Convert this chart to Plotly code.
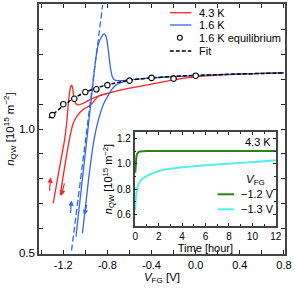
import plotly.graph_objects as go

# ---------------- data ----------------
red_up_v = [-1.291, -1.24, -1.188, -1.17, -1.159, -1.144, -1.133, -1.123, -1.113, -1.106, -1.095,
            -1.085, -1.062, -1.04, -1.0, -0.95, -0.88, -0.79, -0.6, -0.41, -0.2, 0.0, 0.2, 0.4, 0.6, 0.8]
red_up_n = [0.70, 0.83, 0.956, 1.02, 1.077, 1.144, 1.17, 1.177, 1.16, 1.13, 1.11,
            1.102, 1.097, 1.10, 1.108, 1.12, 1.133, 1.145, 1.165, 1.18, 1.198, 1.21, 1.217, 1.221, 1.224, 1.226]
red_dn_v = [-0.79, -0.88, -0.952, -1.026, -1.079, -1.115, -1.145, -1.19, -1.227]
red_dn_n = [1.145, 1.133, 1.097, 1.077, 1.05, 1.016, 0.956, 0.84, 0.734]

blue_up_v = [-1.085, -1.0, -0.95, -0.907, -0.88, -0.855, -0.84, -0.826, -0.81, -0.795, -0.782,
             -0.77, -0.755, -0.74, -0.72, -0.68, -0.6, -0.4, -0.2, 0.0, 0.2, 0.4, 0.6, 0.8]
blue_up_n = [0.566, 0.905, 1.105, 1.278, 1.345, 1.37, 1.38, 1.383, 1.37, 1.33, 1.28,
             1.24, 1.21, 1.2, 1.196, 1.195, 1.198, 1.206, 1.211, 1.215, 1.219, 1.222, 1.224, 1.226]
blue_dn_v = [-0.6, -0.66, -0.72, -0.76, -0.8, -0.84, -0.88, -0.922, -0.97, -1.026]
blue_dn_n = [1.197, 1.19, 1.178, 1.16, 1.13, 1.095, 1.04, 0.955, 0.80, 0.58]

blue_lin_v = [-1.125, -0.843]
blue_lin_n = [0.51, 1.5]

eq_v = [-1.3, -1.2, -1.1, -1.0, -0.9, -0.8, -0.6, -0.4, -0.2, 0.0]
eq_n = [1.056, 1.100, 1.122, 1.149, 1.160, 1.177, 1.195, 1.206, 1.203, 1.215]

fit_v = [-1.33, -1.3, -1.2, -1.1, -1.0, -0.9, -0.8, -0.7, -0.6, -0.5, -0.4, -0.2, 0.0, 0.2, 0.4, 0.6, 0.8]
fit_n = [1.045, 1.056, 1.094, 1.125, 1.148, 1.165, 1.178, 1.188, 1.196, 1.202, 1.206, 1.212, 1.216,
         1.219, 1.222, 1.224, 1.226]

# inset: time traces at 4.3 K
t_g = [0.0, 0.03, 0.06, 0.1, 0.15, 0.2, 0.3, 0.4, 0.55, 0.7, 1.0, 2, 4, 6, 8, 10, 12]
n_g = [0.93, 0.99, 1.03, 1.06, 1.075, 1.085, 1.093, 1.097, 1.099, 1.10, 1.10, 1.10, 1.10, 1.10, 1.10, 1.10, 1.10]
t_c = [0.0, 0.03, 0.1, 0.2, 0.37, 0.6, 1.0, 1.5, 2.1, 3, 4, 5, 6, 7, 8, 9, 10, 11, 12]
n_c = [0.635, 0.70, 0.77, 0.82, 0.857, 0.88, 0.905, 0.925, 0.945, 0.96, 0.972, 0.98, 0.988,
       0.995, 1.0, 1.007, 1.013, 1.02, 1.027]

x_tickvals = [-1.2, -0.8, -0.4, 0.0, 0.4, 0.8]
x_ticktext = ["-1.2", "-0.8", "-0.4", "0.0", "0.4", "0.8"]
y_tickvals = [0.5, 1.0, 1.5]
y_ticktext = ["0.5", "1.0", "1.5"]

main_legend_names = ["4.3 K", "1.6 K", "1.6 K equilibrium", "Fit"]
inset_legend_names = ["\u22121.2 V", "\u22121.3 V"]

RED = "#ff2222"
BLUE = "#3366ee"
GREEN = "#2f7f1f"
CYAN = "#55eeee"
FONT = "Arial, Liberation Sans, sans-serif"

W, H = 295, 290
ML, MR, MT, MB = 39, 4, 4, 36
PW, PH = W - ML - MR, H - MT - MB


def px(x):
    return (x - ML) / PW


def py(y):
    return (H - MB - y) / PH


fig = go.Figure()
fig.add_trace(go.Scatter(x=red_up_v, y=red_up_n, mode="lines", name=main_legend_names[0],
                         line=dict(color=RED, width=1.3, shape="spline", smoothing=0.5)))
fig.add_trace(go.Scatter(x=red_dn_v, y=red_dn_n, mode="lines", name=main_legend_names[0],
                         line=dict(color=RED, width=1.3, shape="spline", smoothing=0.5)))
fig.add_trace(go.Scatter(x=blue_up_v, y=blue_up_n, mode="lines", name=main_legend_names[1],
                         line=dict(color=BLUE, width=1.3, shape="spline", smoothing=0.5)))
fig.add_trace(go.Scatter(x=blue_dn_v, y=blue_dn_n, mode="lines", name=main_legend_names[1],
                         line=dict(color=BLUE, width=1.3, shape="spline", smoothing=0.5)))
fig.add_trace(go.Scatter(x=blue_lin_v, y=blue_lin_n, mode="lines", name="1.6 K linear",
                         line=dict(color=BLUE, width=1.3, dash="6px,3px")))
fig.add_trace(go.Scatter(x=fit_v, y=fit_n, mode="lines", name=main_legend_names[3],
                         line=dict(color="black", width=1.5, dash="4px,2px", shape="spline")))
fig.add_trace(go.Scatter(x=eq_v, y=eq_n, mode="markers", name=main_legend_names[2],
                         marker=dict(symbol="circle", size=5.5, color="white",
                                     line=dict(width=1.1, color="black"))))

# inset
fig.add_trace(go.Scatter(x=t_g, y=n_g, mode="lines", name=inset_legend_names[0], xaxis="x2", yaxis="y2",
                         line=dict(color=GREEN, width=2)))
fig.add_trace(go.Scatter(x=t_c, y=n_c, mode="lines", name=inset_legend_names[1], xaxis="x2", yaxis="y2",
                         line=dict(color=CYAN, width=2, shape="spline", smoothing=0.6)))

axis_common = dict(showline=True, linecolor="#444", linewidth=1.5, mirror="ticks",
                   ticks="inside", ticklen=4, tickcolor="#222", tickwidth=1, showgrid=False,
                   zeroline=False)

arrows = [
    (-1.315, 0.805, -1.325, 0.745, RED),
    (-1.218, 0.731, -1.186, 0.787, RED),
    (-1.125, 0.712, -1.135, 0.655, BLUE),
    (-1.011, 0.652, -0.983, 0.700, BLUE),
]
annotations = []
for (x, y, ax, ay, c) in arrows:
    annotations.append(dict(x=x, y=y, ax=ax, ay=ay, xref="x", yref="y", axref="x", ayref="y",
                            showarrow=True, arrowhead=2, arrowsize=0.9, arrowwidth=1.2,
                            arrowcolor=c, text=""))

shapes = []
# ---- main legend (drawn manually to match the compact spacing) ----
leg_y = [12.7, 25.0, 37.7, 51.0]
leg_x0, leg_x1, leg_tx = 173, 195, 200.5
shapes.append(dict(type="line", xref="paper", yref="paper", x0=px(leg_x0), x1=px(leg_x1),
                   y0=py(leg_y[0]), y1=py(leg_y[0]), line=dict(color=RED, width=1.3)))
shapes.append(dict(type="line", xref="paper", yref="paper", x0=px(leg_x0), x1=px(leg_x1),
                   y0=py(leg_y[1]), y1=py(leg_y[1]), line=dict(color=BLUE, width=1.3)))
shapes.append(dict(type="circle", xref="paper", yref="paper", x0=px(183.3 - 2.5), x1=px(183.3 + 2.5),
                   y0=py(leg_y[2] + 2.5), y1=py(leg_y[2] - 2.5), line=dict(color="black", width=1.1),
                   fillcolor="white"))
shapes.append(dict(type="line", xref="paper", yref="paper", x0=px(leg_x0), x1=px(leg_x1),
                   y0=py(leg_y[3]), y1=py(leg_y[3]), line=dict(color="black", width=1.5, dash="4px,2px")))
for name, yy in zip(main_legend_names, leg_y):
    annotations.append(dict(text=name, x=px(leg_tx), y=py(yy), xref="paper", yref="paper",
                            xanchor="left", yanchor="middle", showarrow=False, font=dict(size=11)))

# ---- inset legend ----
ileg_y = [194.3, 209.3]
for col, name, yy in zip([GREEN, CYAN], inset_legend_names, ileg_y):
    shapes.append(dict(type="line", xref="paper", yref="paper", x0=px(222), x1=px(239),
                       y0=py(yy), y1=py(yy), line=dict(color=col, width=2)))
    annotations.append(dict(text=name, x=px(244), y=py(yy), xref="paper", yref="paper",
                            xanchor="left", yanchor="middle", showarrow=False, font=dict(size=11)))
annotations.append(dict(text="<i>V</i><sub>FG</sub>", x=px(261), y=py(180), xref="paper", yref="paper",
                        showarrow=False, xanchor="center", yanchor="middle", font=dict(size=11.5)))
annotations.append(dict(text="4.3 K", x=px(279), y=py(142), xref="paper", yref="paper",
                        showarrow=False, xanchor="right", yanchor="middle", font=dict(size=11)))

fig.update_layout(
    width=W, height=H, autosize=False,
    margin=dict(l=ML, r=MR, t=MT, b=MB),
    paper_bgcolor="white", plot_bgcolor="white",
    font=dict(family=FONT, size=11, color="black"),
    showlegend=False,
    xaxis=dict(axis_common, range=[-1.42, 0.81], tickvals=x_tickvals, ticktext=x_ticktext,
               minor=dict(dtick=0.2, tick0=0, ticks="inside", ticklen=4, tickcolor="#222"),
               title=dict(text="<i>V</i><sub>FG</sub> [V]", standoff=3, font=dict(size=11.5)),
               tickfont=dict(size=11), anchor="y", automargin=False),
    yaxis=dict(axis_common, range=[0.496, 1.504], tickvals=y_tickvals, ticktext=y_ticktext,
               minor=dict(dtick=0.1, tick0=0, ticks="inside", ticklen=4, tickcolor="#222"),
               title=dict(text="<i>n</i><sub>QW</sub> [10<sup>15</sup> m<sup>\u22122</sup>]",
                          standoff=2, font=dict(size=11.5)),
               tickfont=dict(size=11.5), anchor="x", automargin=False),
    xaxis2=dict(axis_common, domain=[px(137), px(282)], range=[-0.05, 12.03], anchor="y2",
                dtick=2, tick0=0, ticklen=3,
                minor=dict(dtick=1, ticks="inside", ticklen=2, tickcolor="#222"),
                title=dict(text="Time [hour]", standoff=2, font=dict(size=11)),
                tickfont=dict(size=10)),
    yaxis2=dict(axis_common, domain=[py(226), py(132)], range=[0.51, 1.25], anchor="x2",
                dtick=0.2, tick0=0, ticklen=3, tickformat=".1f",
                minor=dict(dtick=0.1, ticks="inside", ticklen=2, tickcolor="#222"),
                title=dict(text="<i>n</i><sub>QW</sub> [10<sup>15</sup> m<sup>\u22122</sup>]",
                           standoff=2, font=dict(size=11)),
                tickfont=dict(size=10)),
    annotations=annotations,
    shapes=shapes,
)

fig.write_html("out.html", config={"displayModeBar": False},
               post_script="document.body.style.margin='0px';")
